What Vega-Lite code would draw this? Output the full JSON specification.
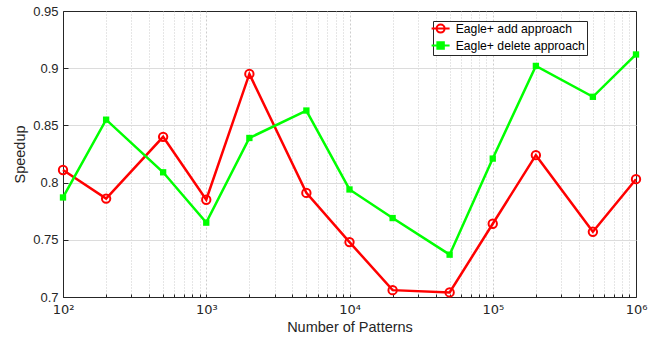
{
  "$schema": "https://vega.github.io/schema/vega-lite/v6.json",
  "autosize": {"type": "none"},
  "padding": {"left": 63, "top": 11, "right": 22, "bottom": 45},
  "width": 573,
  "height": 286,
  "background": "white",
  "config": {
    "view": {"stroke": "#262626", "strokeWidth": 1},
    "font": "Liberation Sans",
    "axis": {
      "labelFont": "Liberation Sans",
      "titleFont": "Liberation Sans",
      "labelColor": "#262626",
      "titleColor": "#262626",
      "domainColor": "#262626",
      "tickColor": "#262626",
      "labelFontSize": 13,
      "titleFontSize": 14.5,
      "titleFontWeight": "normal"
    }
  },
  "data": {
    "values": [
      {"n": 100, "speedup": 0.811, "series": "Eagle+ add approach"},
      {"n": 200, "speedup": 0.786, "series": "Eagle+ add approach"},
      {"n": 500, "speedup": 0.840, "series": "Eagle+ add approach"},
      {"n": 1000, "speedup": 0.785, "series": "Eagle+ add approach"},
      {"n": 2000, "speedup": 0.895, "series": "Eagle+ add approach"},
      {"n": 5000, "speedup": 0.791, "series": "Eagle+ add approach"},
      {"n": 10000, "speedup": 0.748, "series": "Eagle+ add approach"},
      {"n": 20000, "speedup": 0.706, "series": "Eagle+ add approach"},
      {"n": 50000, "speedup": 0.704, "series": "Eagle+ add approach"},
      {"n": 100000, "speedup": 0.764, "series": "Eagle+ add approach"},
      {"n": 200000, "speedup": 0.824, "series": "Eagle+ add approach"},
      {"n": 500000, "speedup": 0.757, "series": "Eagle+ add approach"},
      {"n": 1000000, "speedup": 0.803, "series": "Eagle+ add approach"},
      {"n": 100, "speedup": 0.787, "series": "Eagle+ delete approach"},
      {"n": 200, "speedup": 0.855, "series": "Eagle+ delete approach"},
      {"n": 500, "speedup": 0.809, "series": "Eagle+ delete approach"},
      {"n": 1000, "speedup": 0.765, "series": "Eagle+ delete approach"},
      {"n": 2000, "speedup": 0.839, "series": "Eagle+ delete approach"},
      {"n": 5000, "speedup": 0.863, "series": "Eagle+ delete approach"},
      {"n": 10000, "speedup": 0.794, "series": "Eagle+ delete approach"},
      {"n": 20000, "speedup": 0.769, "series": "Eagle+ delete approach"},
      {"n": 50000, "speedup": 0.737, "series": "Eagle+ delete approach"},
      {"n": 100000, "speedup": 0.821, "series": "Eagle+ delete approach"},
      {"n": 200000, "speedup": 0.902, "series": "Eagle+ delete approach"},
      {"n": 500000, "speedup": 0.875, "series": "Eagle+ delete approach"},
      {"n": 1000000, "speedup": 0.912, "series": "Eagle+ delete approach"}
    ]
  },
  "encoding": {
    "x": {
      "field": "n",
      "type": "quantitative",
      "title": "Number of Patterns",
      "titlePadding": 3,
      "titleFontSize": 15,
      "scale": {"type": "log", "domain": [100, 1000000], "nice": false},
      "axis": {
        "values": [100, 200, 300, 400, 500, 600, 700, 800, 900,
                   1000, 2000, 3000, 4000, 5000, 6000, 7000, 8000, 9000,
                   10000, 20000, 30000, 40000, 50000, 60000, 70000, 80000, 90000,
                   100000, 200000, 300000, 400000, 500000, 600000, 700000, 800000, 900000,
                   1000000],
        "labelExpr": "abs(log(datum.value)/LN10 - round(log(datum.value)/LN10)) < 1e-6 ? '10' + ['⁰','¹','²','³','⁴','⁵','⁶'][round(log(datum.value)/LN10)] : ''",
        "labelFont": "DejaVu Sans",
        "labelFontSize": 13,
        "labelPadding": 9,
        "labelFlush": false,
        "labelOverlap": false,
        "tickSize": -3,
        "grid": true,
        "gridColor": "#c8c8c8",
        "gridDash": {
          "condition": {"test": "abs(log(datum.value)/LN10 - round(log(datum.value)/LN10)) < 1e-6", "value": [2, 2]},
          "value": [1, 2]
        },
        "gridOpacity": {
          "condition": {"test": "datum.value >= 999999", "value": 0},
          "value": 0.9
        }
      }
    },
    "y": {
      "field": "speedup",
      "type": "quantitative",
      "title": "Speedup",
      "scale": {"domain": [0.7, 0.95], "nice": false, "zero": false},
      "axis": {
        "values": [0.7, 0.75, 0.8, 0.85, 0.9, 0.95],
        "format": ".2~f",
        "tickSize": -5,
        "labelPadding": 10,
        "titlePadding": 5,
        "grid": true,
        "gridColor": "#dcdcdc",
        "gridOpacity": {
          "condition": {"test": "datum.value >= 0.949", "value": 0},
          "value": 1
        }
      }
    }
  },
  "layer": [
    {
      "mark": {"type": "line", "strokeWidth": 2.5},
      "encoding": {
        "color": {
          "field": "series",
          "type": "nominal",
          "scale": {"domain": ["Eagle+ add approach", "Eagle+ delete approach"], "range": ["#ff0000", "#00ff00"]},
          "legend": {
            "title": null,
            "orient": "none",
            "legendX": 370,
            "legendY": 10,
            "direction": "vertical",
            "fillColor": "white",
            "strokeColor": "#262626",
            "padding": 1.5,
            "symbolSize": 100,
            "rowPadding": 0,
            "labelOffset": 9,
            "labelFontSize": 12.2,
            "labelColor": "#000000",
            "labelFont": "Liberation Sans",
            "encode": {
              "symbols": {
                "update": {
                  "shape": {"signal": "datum.value === 'Eagle+ add approach' ? 'M-1.8,0H1.8M-0.8,0A0.8,0.8 0 1,1 0.8,0A0.8,0.8 0 1,1 -0.8,0Z' : 'M-1.8,0H1.8M-0.65,-0.65H0.65V0.65H-0.65Z'"},
                  "fill": {"signal": "datum.value === 'Eagle+ add approach' ? 'transparent' : '#00ff00'"},
                  "stroke": {"signal": "datum.value === 'Eagle+ add approach' ? '#ff0000' : '#00ff00'"},
                  "strokeWidth": {"value": 2},
                  "opacity": {"value": 1}
                }
              }
            }
          }
        }
      }
    },
    {
      "transform": [{"filter": "datum.series === 'Eagle+ add approach'"}],
      "mark": {"type": "point", "shape": "circle", "filled": false, "size": 70, "strokeWidth": 2, "color": "#ff0000", "opacity": 1}
    },
    {
      "transform": [{"filter": "datum.series === 'Eagle+ delete approach'"}],
      "mark": {"type": "point", "shape": "square", "filled": true, "size": 40, "color": "#00ff00", "opacity": 1}
    }
  ]
}
